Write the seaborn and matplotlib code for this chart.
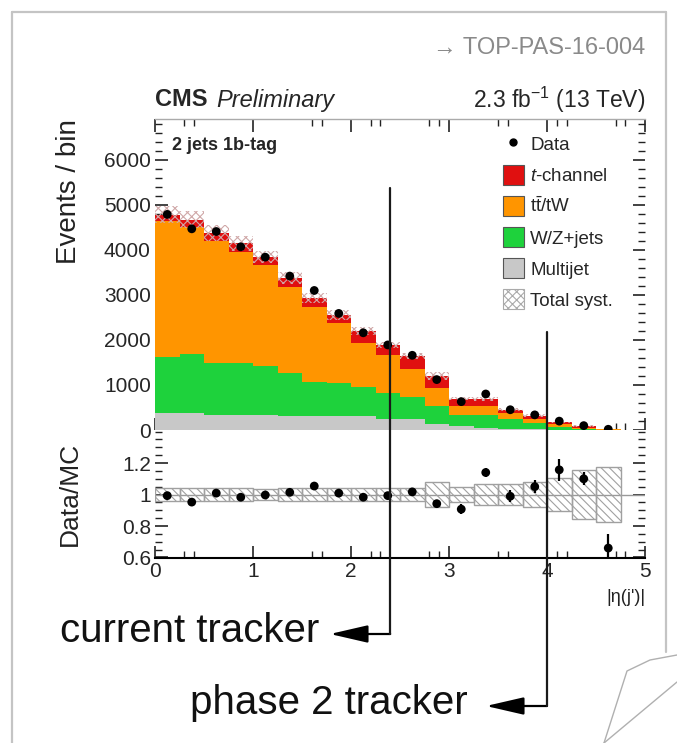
import numpy as np
import pandas as pd
import matplotlib
matplotlib.use("Agg")
import matplotlib.pyplot as plt
import seaborn as sns
from matplotlib.lines import Line2D
from matplotlib.patches import Patch, FancyArrowPatch
from matplotlib.ticker import MultipleLocator, FixedLocator
import matplotlib.transforms as mtransforms

# ---------------- data ----------------
eta_edges = [0.0, 0.25, 0.5, 0.75, 1.0, 1.25, 1.5, 1.75, 2.0, 2.25, 2.5,
             2.75, 3.0, 3.25, 3.5, 3.75, 4.0, 4.25, 4.5, 4.75]
multijet = [385, 385, 333, 333, 333, 300, 300, 300, 300, 237, 237, 133, 90, 44, 30, 20, 10, 5, 2]
wz_jets = [1245, 1305, 1147, 1147, 1087, 970, 770, 735, 650, 593, 503, 397, 243, 289, 207, 143, 64, 25, 6]
ttbar_tw = [3020, 2830, 2710, 2480, 2250, 1915, 1670, 1335, 990, 840, 610, 395, 197, 197, 133, 74, 52, 22, 7]
t_channel = [130, 150, 180, 190, 180, 185, 190, 185, 270, 220, 290, 275, 160, 160, 85, 83, 44, 36, 10]
data_counts = [4790, 4470, 4410, 4070, 3840, 3420, 3100, 2590, 2160, 1890, 1660, 1120, 630, 800, 450, 336, 197, 97, 16]
ratio = [0.993, 0.952, 1.009, 0.983, 0.997, 1.014, 1.054, 1.009, 0.983, 0.993, 1.017,
         0.942, 0.907, 1.14, 0.989, 1.05, 1.157, 1.10, 0.66]
ratio_err = [0.01, 0.01, 0.01, 0.01, 0.01, 0.012, 0.013, 0.015, 0.016, 0.018, 0.02,
             0.025, 0.03, 0.03, 0.037, 0.04, 0.07, 0.04, 0.09]
syst_rel = [0.04, 0.04, 0.04, 0.04, 0.035, 0.04, 0.04, 0.04, 0.04, 0.04, 0.04,
            0.08, 0.05, 0.065, 0.065, 0.08, 0.105, 0.157, 0.175]
process_names = ["t-channel", "tt/tW", "W/Z+jets", "Multijet"]
process_colors = ["#e01010", "#ff9500", "#1ed23c", "#c8c8c8"]
legend_labels = ["Data", r"$t$-channel", r"t$\bar{\rm t}$/tW", "W/Z+jets", "Multijet", "Total syst."]

# ---------------- style ----------------
sns.set_theme(style="ticks")
plt.rcParams["font.family"] = ["Liberation Sans", "DejaVu Sans"]
plt.rcParams["mathtext.fontset"] = "custom"
plt.rcParams["mathtext.rm"] = "Liberation Sans"
plt.rcParams["mathtext.it"] = "Liberation Sans:italic"
plt.rcParams["mathtext.bf"] = "Liberation Sans:bold"
plt.rcParams["hatch.linewidth"] = 0.8

W, H = 677, 743
fig = plt.figure(figsize=(W / 100, H / 100), dpi=100)
fig.patch.set_facecolor("white")


def fx(px):
    return px / W


def fy(py):
    return 1 - py / H


AX_L, AX_R = 155, 645
ax1 = fig.add_axes([fx(AX_L), fy(430), (AX_R - AX_L) / W, (430 - 119) / H])
ax2 = fig.add_axes([fx(AX_L), fy(557.5), (AX_R - AX_L) / W, (557.5 - 430) / H], sharex=ax1)

edges = np.array(eta_edges)
centers = 0.5 * (edges[:-1] + edges[1:])
n = len(centers)

stack_vals = [t_channel, ttbar_tw, wz_jets, multijet]
df = pd.DataFrame({
    "eta": np.tile(centers, len(process_names)),
    "events": np.concatenate([np.array(v, float) for v in stack_vals]),
    "process": np.repeat(process_names, n),
})

sns.histplot(data=df, x="eta", weights="events", hue="process", hue_order=process_names,
             multiple="stack", bins=list(eta_edges), element="step", fill=True, alpha=1,
             linewidth=0, palette=dict(zip(process_names, process_colors)),
             legend=False, ax=ax1)

total = np.sum([np.array(v, float) for v in stack_vals], axis=0)
srel = np.array(syst_rel)
ax1.stairs(total * (1 + srel), edges, baseline=total * (1 - srel), fill=True,
           hatch="xxxx", facecolor="none", edgecolor="#d0a8a8", linewidth=0, zorder=3)

dc = np.array(data_counts, float)
ax1.errorbar(centers, dc, yerr=np.sqrt(dc), fmt="none", ecolor="black", elinewidth=1.2, zorder=4)
sns.scatterplot(x=centers, y=dc, color="black", s=40, edgecolor="none", ax=ax1, zorder=5)

# ratio panel
ax2.axhline(1.0, color="#999999", lw=1.0, zorder=1)
ax2.bar(centers, 2 * srel, bottom=1 - srel, width=edges[1] - edges[0], fill=False,
        hatch="\\\\\\\\", edgecolor="#a0a0a0", linewidth=1.0, zorder=2)
ax2.errorbar(centers, ratio, yerr=ratio_err, fmt="none", ecolor="black", elinewidth=1.6, zorder=4)
sns.scatterplot(x=centers, y=ratio, color="black", s=40, edgecolor="none", ax=ax2, zorder=5)

# ---------------- axes styling ----------------
ax1.set_xlim(0, 5)
ax1.set_ylim(0, 6910)
ax1.yaxis.set_major_locator(MultipleLocator(1000))
ax1.yaxis.set_minor_locator(MultipleLocator(200))
minor_x = [0.3, 0.4, 1.6, 1.7, 2.2, 2.3, 2.8, 2.9, 3.5, 3.6, 4.1, 4.2, 4.7, 4.8]
for ax in (ax1, ax2):
    ax.xaxis.set_major_locator(FixedLocator([0, 1, 2, 3, 4, 5]))
    ax.xaxis.set_minor_locator(FixedLocator(minor_x))
    ax.tick_params(which="both", direction="in", top=True, right=True, color="#222222")
    ax.tick_params(which="major", length=9, width=1.2, labelsize=15, pad=3)
    ax.tick_params(which="minor", length=5, width=1.0)
    ax.set_facecolor("white")
    for s in ("left", "right"):
        ax.spines[s].set_visible(False)
ax1.tick_params(labelbottom=False)
ax1.spines["bottom"].set_visible(False)
ax1.spines["top"].set_color("#aaaaaa")
ax1.spines["top"].set_linewidth(1.0)
ax2.spines["top"].set_visible(False)
ax2.spines["bottom"].set_color("black")
ax2.spines["bottom"].set_linewidth(1.5)
ax2.tick_params(axis="x", which="both", top=False)

ax2.set_ylim(0.6, 1.41)
ax2.yaxis.set_major_locator(FixedLocator([0.6, 0.8, 1.0, 1.2]))
ax2.set_yticklabels(["0.6", "0.8", "1", "1.2"])
ax2.yaxis.set_minor_locator(MultipleLocator(0.05))
ax2.set_xticklabels(["0", "1", "2", "3", "4", "5"])

ax1.set_ylabel("Events / bin", fontsize=20, loc="top", color="#222222")
ax1.yaxis.set_label_coords(-0.15, 1.0)
ax1.set_xlabel("")
ax2.set_ylabel("Data/MC", fontsize=19, color="#222222")
ax2.yaxis.set_label_coords(-0.15, 0.5)
ax2.set_xlabel("|η(j')|", fontsize=13, loc="right", color="#222222")
ax2.xaxis.set_label_coords(1.0, -0.25)

# legend
handles = [Line2D([0], [0], marker="o", color="black", linestyle="none", markersize=5)]
for c in process_colors:
    handles.append(Patch(facecolor=c, edgecolor="#555555", linewidth=0.8))
handles.append(Patch(facecolor="white", edgecolor="#aaaaaa", hatch="xxxx", linewidth=0.8))
fig.legend(handles, legend_labels, loc="upper left", bbox_to_anchor=(fx(503), fy(134)),
           frameon=False, fontsize=13.5, handlelength=1.1, handleheight=1.25,
           labelspacing=0.58, handletextpad=0.35, borderpad=0, borderaxespad=0)

# header texts
fig.text(fx(155), fy(100), "CMS", fontweight="bold", fontsize=17, ha="left", va="center")
fig.text(fx(216), fy(100), "Preliminary", style="italic", fontsize=17, ha="left", va="center")
fig.text(fx(645), fy(100), r"2.3 fb$^{-1}$ (13 TeV)", fontsize=16.5, ha="right", va="center")
fig.text(fx(172), fy(146), "2 jets 1b-tag", fontweight="bold", fontsize=13, ha="left", va="center")
fig.text(fx(645), fy(48), "→ TOP-PAS-16-004", color="#8a8a8a", fontsize=17, ha="right", va="center")

# tracker coverage lines
trans = mtransforms.blended_transform_factory(ax1.transData, fig.transFigure)


def eta_fig(eta):
    return fx(AX_L) + eta / 5.0 * (AX_R - AX_L) / W


for eta, ytop, yarrow, xtip, label, xlab in [(2.4, 188, 634, 330, "current tracker", 60),
                                             (4.0, 332, 706, 486, "phase 2 tracker", 190)]:
    fig.add_artist(Line2D([eta, eta], [fy(ytop), fy(yarrow)], transform=trans,
                          color="#1a1a1a", lw=1.6, zorder=10))
    fig.add_artist(FancyArrowPatch(
        (eta_fig(eta), fy(yarrow)), (fx(xtip), fy(yarrow)), transform=fig.transFigure,
        arrowstyle="-|>,head_length=1.3,head_width=0.3", mutation_scale=18,
        color="black", lw=1.6, shrinkA=0, shrinkB=0))
    fig.text(fx(xlab), fy(yarrow - 3), label, fontsize=29, ha="left", va="center", color="#111111")

# slide frame and page curl
fc = "#c4c4c4"
fig.add_artist(Line2D([fx(12), fx(12)], [fy(12), fy(743)], transform=fig.transFigure, color=fc, lw=1.6))
fig.add_artist(Line2D([fx(12), fx(666)], [fy(12), fy(12)], transform=fig.transFigure, color=fc, lw=1.6))
fig.add_artist(Line2D([fx(666), fx(666)], [fy(12), fy(652)], transform=fig.transFigure, color=fc, lw=1.6))
curl = "#b0b0b0"
fig.add_artist(Line2D([fx(604), fx(627), fx(650), fx(677)], [fy(743), fy(671), fy(660), fy(655)],
                      transform=fig.transFigure, color=curl, lw=1.0))
fig.add_artist(Line2D([fx(604), fx(677)], [fy(743), fy(682)], transform=fig.transFigure, color=curl, lw=1.0))

fig.savefig("out.png", dpi=100, facecolor="white")
